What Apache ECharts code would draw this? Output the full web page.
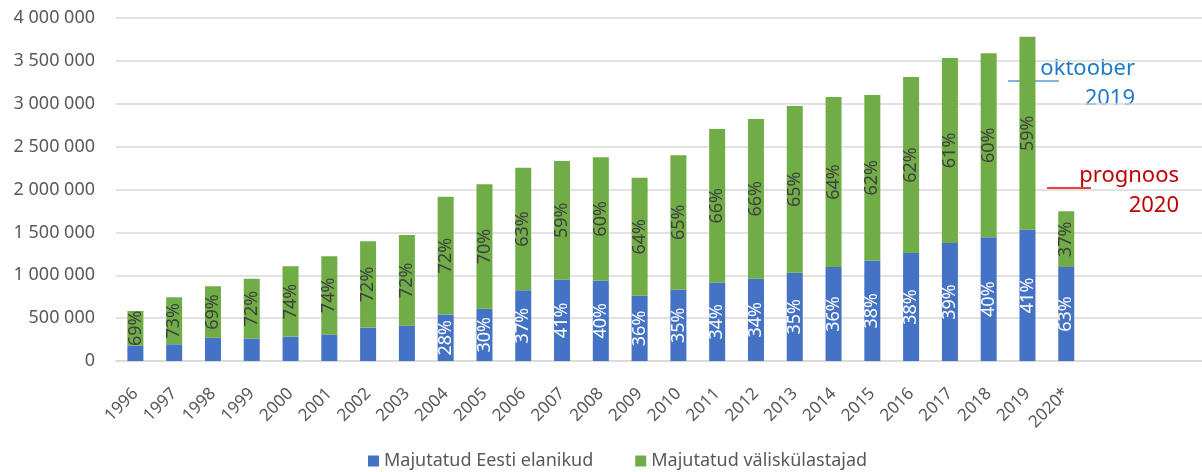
<!DOCTYPE html>
<html lang="et">
<head>
    <meta charset="UTF-8">
    <title>Majutatud</title>
    <style>
        html, body { margin: 0; padding: 0; background: #fff; }
        #main { width: 1202px; height: 472px; }
    </style>
</head>
<body>
<div id="main"></div>
<script src="https://cdn.jsdelivr.net/npm/echarts@6/dist/echarts.min.js"></script>
<script>
    const myChart = echarts.init(document.getElementById('main'));

    // aastad
    const years = ['1996','1997','1998','1999','2000','2001','2002','2003','2004','2005','2006','2007',
        '2008','2009','2010','2011','2012','2013','2014','2015','2016','2017','2018','2019','2020*'];
    // Majutatud Eesti elanikud
    const domestic = [180000,195000,272000,262000,285000,310000,390000,412000,542000,610000,825000,950000,
        940000,760000,835000,915000,960000,1030000,1095000,1172000,1259000,1377000,1442000,1530000,1095000];
    // Majutatud väliskülastajad
    const foreign = [403000,548000,599000,698000,819000,911000,1006000,1057000,1374000,1450000,1430000,1382000,
        1435000,1378000,1564000,1791000,1862000,1944000,1984000,1930000,2053000,2157000,2146000,2252000,651000];
    // protsendid (nagu joonisel)
    const domesticPct = [null,null,null,null,null,null,null,null,28,30,37,41,40,36,35,34,34,35,36,38,38,39,40,41,63];
    const foreignPct = [69,73,69,72,74,74,72,72,72,70,63,59,60,64,65,66,66,65,64,62,62,61,60,59,37];
    const yTicks = [0, 500000, 1000000, 1500000, 2000000, 2500000, 3000000, 3500000, 4000000];

    // tühjad kohad paremal
    const cats = years.concat(['', '', '']);
    const font = 'Noto Sans';

    function fmt(v) {
        return String(v).replace(/\B(?=(\d{3})+(?!\d))/g, ' ');
    }

    const option = {
        animation: false,
        textStyle: { fontFamily: font },
        grid: { left: 116, right: -4, top: 18, bottom: 111 },
        legend: {
            top: 447,
            left: 363,
            itemWidth: 11,
            itemHeight: 11,
            itemGap: 42,
            icon: 'rect',
            textStyle: { color: '#595959', fontSize: 18, fontFamily: font },
            data: ['Majutatud Eesti elanikud', 'Majutatud väliskülastajad']
        },
        xAxis: {
            type: 'category',
            data: cats,
            axisTick: { show: false },
            axisLine: { lineStyle: { color: '#d9d9d9', width: 1.5 } },
            axisLabel: {
                rotate: 45,
                interval: 0,
                margin: 30,
                color: '#595959',
                fontSize: 17,
                fontFamily: font
            }
        },
        yAxis: {
            type: 'value',
            min: 0,
            max: yTicks[yTicks.length - 1],
            interval: 500000,
            axisLine: { show: false },
            axisTick: { show: false },
            splitLine: { lineStyle: { color: '#d9d9d9', width: 1.5 } },
            axisLabel: {
                margin: 21,
                color: '#595959',
                fontSize: 18,
                fontFamily: font,
                formatter: v => fmt(v)
            }
        },
        series: [
            {
                name: 'Majutatud Eesti elanikud',
                type: 'bar',
                stack: 'kokku',
                barWidth: 16,
                data: domestic,
                itemStyle: { color: '#4472C4' },
                label: {
                    show: true,
                    position: 'inside',
                    rotate: 90,
                    color: '#fff',
                    fontSize: 18,
                    fontFamily: font,
                    formatter: p => domesticPct[p.dataIndex] == null ? '' : domesticPct[p.dataIndex] + '%'
                }
            },
            {
                name: 'Majutatud väliskülastajad',
                type: 'bar',
                stack: 'kokku',
                barWidth: 16,
                data: foreign,
                itemStyle: { color: '#70AD47' },
                label: {
                    show: true,
                    position: 'inside',
                    rotate: 90,
                    color: '#404040',
                    fontSize: 18,
                    fontFamily: font,
                    formatter: p => foreignPct[p.dataIndex] == null ? '' : foreignPct[p.dataIndex] + '%'
                }
            }
        ],
        graphic: [
            {
                type: 'line',
                shape: { x1: 1008, y1: 81, x2: 1059, y2: 81 },
                style: { stroke: '#5B9BD5', lineWidth: 1.5 }
            },
            {
                type: 'text',
                x: 1135, y: 54,
                style: {
                    text: 'oktoober\n2019',
                    align: 'right',
                    verticalAlign: 'top',
                    lineHeight: 30,
                    fill: '#1F7BC9',
                    font: '22px "Noto Sans"'
                }
            },
            {
                type: 'line',
                shape: { x1: 1047, y1: 188, x2: 1091, y2: 188 },
                style: { stroke: '#E00000', lineWidth: 1.5 }
            },
            {
                type: 'text',
                x: 1179, y: 161,
                style: {
                    text: 'prognoos\n2020',
                    align: 'right',
                    verticalAlign: 'top',
                    lineHeight: 30,
                    fill: '#C00000',
                    font: '22px "Noto Sans"'
                }
            }
        ]
    };

    myChart.setOption(option);
</script>
</body>
</html>
